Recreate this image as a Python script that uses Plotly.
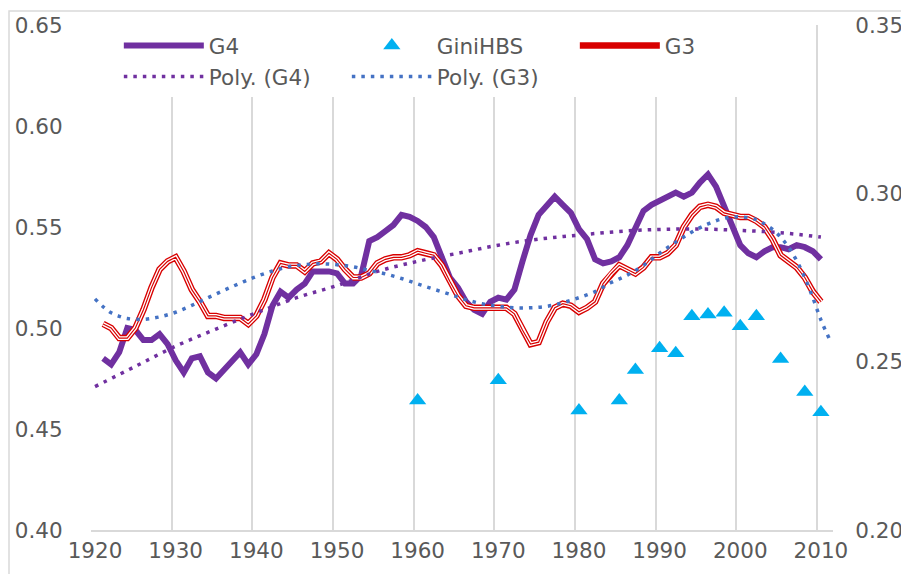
import plotly.graph_objects as go

# years on the category axis (Excel line chart)
axis_years = list(range(1920, 2012))
years = list(range(1921, 2011))

g4 = [0.485, 0.482, 0.488, 0.500, 0.499, 0.494, 0.494, 0.497, 0.492, 0.484,
      0.478, 0.485, 0.486, 0.478, 0.475, 0.479, 0.484, 0.488, 0.482, 0.487,
      0.497, 0.511, 0.518, 0.515, 0.519, 0.522, 0.528, 0.528, 0.528, 0.527,
      0.522, 0.522, 0.526, 0.543, 0.545, 0.548, 0.551, 0.556, 0.555, 0.553,
      0.550, 0.545, 0.535, 0.525, 0.520, 0.513, 0.509, 0.507, 0.513, 0.515,
      0.514, 0.519, 0.533, 0.546, 0.556, 0.561, 0.565, 0.561, 0.557, 0.549,
      0.544, 0.534, 0.532, 0.533, 0.535, 0.541, 0.549, 0.558, 0.561, 0.563,
      0.565, 0.567, 0.565, 0.567, 0.572, 0.576, 0.570, 0.560, 0.550, 0.541,
      0.537, 0.535, 0.538, 0.540, 0.540, 0.539, 0.541, 0.540, 0.538, 0.534]

g3 = [0.502, 0.500, 0.495, 0.495, 0.500, 0.509, 0.520, 0.529, 0.533, 0.535,
      0.528, 0.519, 0.513, 0.506, 0.506, 0.505, 0.505, 0.505, 0.502, 0.506,
      0.514, 0.525, 0.532, 0.531, 0.531, 0.528, 0.532, 0.533, 0.537, 0.534,
      0.529, 0.525, 0.525, 0.527, 0.532, 0.534, 0.535, 0.535, 0.536, 0.538,
      0.537, 0.536, 0.531, 0.523, 0.516, 0.511, 0.510, 0.510, 0.510, 0.510,
      0.510, 0.507, 0.499, 0.492, 0.493, 0.503, 0.510, 0.512, 0.511, 0.508,
      0.510, 0.513, 0.522, 0.527, 0.531, 0.529, 0.527, 0.530, 0.535, 0.535,
      0.537, 0.541, 0.550, 0.556, 0.560, 0.561, 0.560, 0.557, 0.556, 0.555,
      0.555, 0.553, 0.550, 0.544, 0.536, 0.533, 0.530, 0.525, 0.518, 0.513]

hbs_years = [1960, 1970, 1980, 1985, 1987, 1990, 1992, 1994, 1996, 1998,
             2000, 2002, 2005, 2008, 2010]
hbs = [0.2385, 0.2445, 0.2355, 0.2385, 0.2475, 0.2540, 0.2525, 0.2635, 0.2640,
       0.2645, 0.2605, 0.2635, 0.2508, 0.2410, 0.2350]

# trendlines as drawn in the chart
poly_g4_years = list(range(1920, 2011, 5))
poly_g4 = [0.4710, 0.4810, 0.4910, 0.4995, 0.5075, 0.5150, 0.5210, 0.5280,
           0.5330, 0.5370, 0.5410, 0.5440, 0.5460, 0.5478, 0.5488, 0.5490,
           0.5483, 0.5472, 0.5450]

poly_g3_years = [1920, 1921, 1922, 1923, 1924, 1926, 1928, 1930, 1932, 1934,
                 1936, 1938, 1940, 1942, 1944, 1946, 1948, 1950, 1952, 1954,
                 1956, 1958, 1960, 1962, 1964, 1966, 1968, 1970, 1972, 1974,
                 1976, 1978, 1980, 1982, 1984, 1986, 1988, 1990, 1992, 1994,
                 1996, 1998, 2000, 2002, 2003, 2004, 2005, 2006, 2007, 2008,
                 2009, 2010, 2011]
poly_g3 = [0.5144, 0.5105, 0.5075, 0.5058, 0.5047, 0.5043, 0.5055, 0.5078,
           0.5112, 0.5150, 0.5187, 0.5222, 0.5255, 0.5282, 0.5303, 0.5314,
           0.5318, 0.5313, 0.5303, 0.5285, 0.5268, 0.5245, 0.5218, 0.5192,
           0.5167, 0.5140, 0.5120, 0.5107, 0.5100, 0.5100, 0.5107, 0.5125,
           0.5150, 0.5180, 0.5225, 0.5262, 0.5310, 0.5370, 0.5425, 0.5475,
           0.5515, 0.5543, 0.5550, 0.5537, 0.5515, 0.5488, 0.5450, 0.5400,
           0.5333, 0.5250, 0.5150, 0.5040, 0.4950]

PURPLE = '#7030A0'
RED = '#d80000'
BLUE = '#4472C4'
CYAN = '#00B0F0'
GREY = '#595959'
FONT = 'DejaVu Sans'
TICKFONT = dict(family=FONT, size=21.5, color=GREY)

fig = go.Figure()

fig.add_trace(go.Scatter(x=years, y=g4, mode='lines', name='G4', legendrank=1,
                         line=dict(color=PURPLE, width=6)))

# G3: triple compound line (red / white / red)
fig.add_trace(go.Scatter(x=years, y=g3, mode='lines', name='G3',
                         line=dict(color=RED, width=6.5), legendrank=3))
fig.add_trace(go.Scatter(x=years, y=g3, mode='lines', showlegend=False,
                         hoverinfo='skip', line=dict(color='white', width=3.8)))
fig.add_trace(go.Scatter(x=years, y=g3, mode='lines', showlegend=False,
                         hoverinfo='skip', line=dict(color=RED, width=1.2)))

fig.add_trace(go.Scatter(x=hbs_years, y=hbs, mode='markers', name='GiniHBS',
                         yaxis='y2', legendrank=2,
                         marker=dict(symbol='triangle-up', size=15, color=CYAN)))

fig.add_trace(go.Scatter(x=poly_g4_years, y=poly_g4, mode='lines', name='Poly. (G4)',
                         line=dict(color=PURPLE, width=3.5, dash='3.5px,6px', shape='spline'),
                         legendrank=4))
fig.add_trace(go.Scatter(x=poly_g3_years, y=poly_g3, mode='lines', name='Poly. (G3)',
                         line=dict(color=BLUE, width=3.5, dash='3.5px,6px', shape='spline'),
                         legendrank=5))

# the page body adds 8px on top/left, so the figure is 8px smaller
fig.update_layout(
    width=901, height=566,
    margin=dict(l=83, r=76, t=17, b=44),
    paper_bgcolor='white', plot_bgcolor='white',
    font=dict(family=FONT, size=21.5, color=GREY),
    showlegend=True,
    legend=dict(orientation='h', x=0.0375, y=1.0, xanchor='left', yanchor='top',
                bgcolor='white', font=dict(family=FONT, size=21.5, color=GREY),
                itemwidth=80, entrywidth=133, entrywidthmode='pixels', tracegroupgap=0),
    xaxis=dict(type='category', categoryorder='array', categoryarray=axis_years,
               range=[-0.5, len(axis_years) - 0.5], tickmode='linear', tick0=0, dtick=10,
               tickson='boundaries', tickangle=0, automargin=False,
               showgrid=True, gridcolor='#d9d9d9', gridwidth=1.5,
               showline=True, linecolor='#d9d9d9', linewidth=1.5,
               ticks='outside', ticklen=23, tickcolor='rgba(0,0,0,0)',
               tickfont=TICKFONT, zeroline=False),
    yaxis=dict(range=[0.40, 0.65], tickmode='linear', tick0=0.40, dtick=0.05,
               tickformat='.2f', showgrid=False, zeroline=False, showline=False,
               automargin=False, ticks='outside', ticklen=23, tickcolor='rgba(0,0,0,0)',
               tickfont=TICKFONT),
    yaxis2=dict(range=[0.20, 0.35], tickmode='linear', tick0=0.20, dtick=0.05,
                tickformat='.2f', overlaying='y', side='right', showgrid=False,
                zeroline=False, showline=False, automargin=False,
                ticks='outside', ticklen=17, tickcolor='rgba(0,0,0,0)',
                tickfont=TICKFONT),
    shapes=[dict(type='rect', xref='paper', yref='paper', layer='below',
                 x0=-0.1105, y0=-0.1, x1=1.12, y1=1.0277,
                 line=dict(color='#d9d9d9', width=1.5), fillcolor='rgba(0,0,0,0)')],
)

fig.write_html("out.html")
